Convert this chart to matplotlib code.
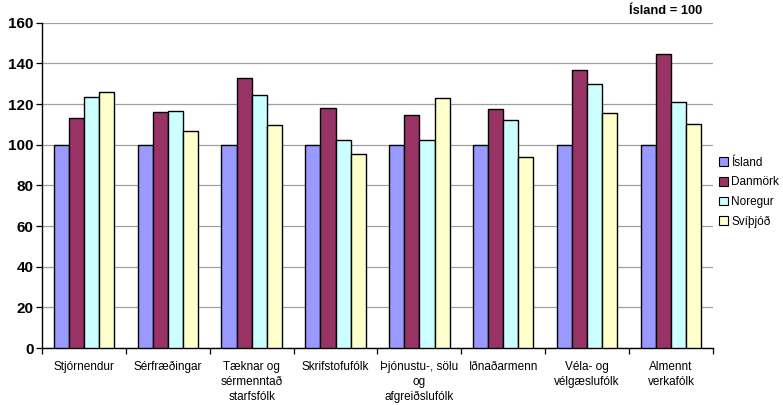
import matplotlib
matplotlib.use("Agg")
import matplotlib.pyplot as plt
import numpy as np
from matplotlib.patches import Patch

plt.rcParams['font.family'] = ['Liberation Sans', 'DejaVu Sans']

categories = ["Stjórnendur", "Sérfræðingar", "Tæknar og\nsérmenntað\nstarfsfólk",
              "Skrifstofufólk", "Þjónustu-, sölu\nog\nafgreiðslufólk", "Iðnaðarmenn",
              "Véla- og\nvélgæslufólk", "Almennt\nverkafólk"]
series_names = ["Ísland", "Danmörk", "Noregur", "Svíþjóð"]
island = [100, 100, 100, 100, 100, 100, 100, 100]
danmork = [113.1, 116.2, 132.7, 117.9, 114.5, 117.6, 136.9, 144.8]
noregur = [123.5, 116.7, 124.4, 102.5, 102.1, 112.0, 130.0, 120.8]
svithjod = [125.9, 106.6, 109.5, 95.3, 123.1, 94.0, 115.4, 110.0]
colors = ["#9999FF", "#993366", "#CCFFFF", "#FFFFCC"]
yticks = [0, 20, 40, 60, 80, 100, 120, 140, 160]

fig = plt.figure(figsize=(7.83, 4.05), dpi=100)
ax = fig.add_axes([0.0536, 0.1407, 0.8570, 0.8033])

x = np.arange(len(categories))
w = 0.18
data = [island, danmork, noregur, svithjod]
for i, (vals, c) in enumerate(zip(data, colors)):
    ax.bar(x + (i - 1.5) * w, vals, width=w, color=c, edgecolor="black",
           linewidth=1.0, zorder=3)

ax.set_xlim(-0.5, len(categories) - 0.5)
ax.set_ylim(0, 160)
ax.set_yticks(yticks)
ax.set_yticklabels([str(t) for t in yticks], fontsize=11, fontweight="bold")
ax.yaxis.grid(True, color="#A0A0A0", linewidth=0.9, zorder=0)
ax.set_axisbelow(True)

ax.set_xticks(x)
ax.set_xticklabels(categories, fontsize=8.5, linespacing=1.35)
ax.tick_params(axis="x", length=0, pad=9)
ax.set_xticks(np.arange(-0.5, len(categories), 1), minor=True)
ax.tick_params(axis="x", which="minor", length=4, width=0.9, direction="out")
ax.tick_params(axis="y", length=4, width=0.9, direction="out", pad=2)

for side in ["top", "right"]:
    ax.spines[side].set_visible(False)
ax.spines["left"].set_linewidth(1.0)
ax.spines["bottom"].set_linewidth(1.0)

fig.text(702 / 783, 1 - 11 / 405, "Ísland = 100", ha="right", va="center",
         fontsize=9.3, fontweight="bold")

handles = [Patch(facecolor=c, edgecolor="black", linewidth=0.8) for c in colors]
fig.legend(handles, series_names, loc="upper left",
           bbox_to_anchor=(714 / 783, 1 - 152 / 405), frameon=False,
           fontsize=8.5, handlelength=0.75, handleheight=0.75,
           handletextpad=0.3, labelspacing=0.65, borderaxespad=0)

fig.savefig("out.png", dpi=100)
